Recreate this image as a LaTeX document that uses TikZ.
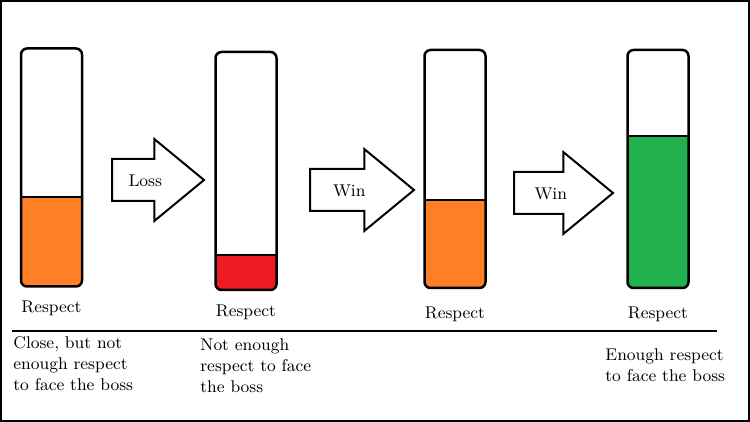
\documentclass[tikz,border=0pt]{standalone}
\usepackage{tikz}
\usetikzlibrary{shapes.arrows, positioning, calc}
\usepackage{xcolor}

\definecolor{paintorange}{RGB}{255,127,39}
\definecolor{paintred}{RGB}{237,28,36}
\definecolor{paintgreen}{RGB}{34,177,76}

\begin{document}
\begin{tikzpicture}[
    x=0.5pt, y=-0.5pt,
    font=\fontsize{8.5}{10.5}\selectfont,
    respectbar/.style 2 args={draw, line width=1.25pt, rounded corners=3pt, minimum width=30.5pt, minimum height=119pt,
        path picture={
            \fill[#2, sharp corners] (path picture bounding box.south west) rectangle ($(path picture bounding box.south east)!#1!(path picture bounding box.north east)$);
            \draw[line width=1pt, sharp corners] ($(path picture bounding box.south west)!#1!(path picture bounding box.north west)$) -- ($(path picture bounding box.south east)!#1!(path picture bounding box.north east)$);
        }},
    blockarrow/.style={shape=single arrow, draw, line width=1pt, single arrow head extend=10pt, single arrow tip angle=79,
        single arrow head indent=0pt, text height=7pt, text depth=0pt, inner ysep=6.5pt, minimum height=#1, anchor=tail},
    note/.style={anchor=north west, inner sep=0pt, align=left}
]
\useasboundingbox (0,0) rectangle (750,422);
\draw[line width=1pt] (1,1) rectangle (748.5,420.5);

% respect meters
\node[respectbar={0.377}{paintorange}] (bar1) at (51.5,167.5) {};
\node[respectbar={0.147}{paintred}] (bar2) at (246,171) {};
\node[respectbar={0.37}{paintorange}] (bar3) at (455,169) {};
\node[respectbar={0.64}{paintgreen}] (bar4) at (658,169) {};

\node[below=3.2pt of bar1] (lab1) {Respect};
\node[below=3.2pt of bar2] (lab2) {Respect};
\node[below=5.2pt of bar3] (lab3) {Respect};
\node[below=5.2pt of bar4] (lab4) {Respect};

% block arrows between the meters
\node[blockarrow=46pt] (loss) at (111,180) {Loss};
\node[blockarrow=52pt] (win1) at (309,190) {Win};
\node[blockarrow=49.5pt] (win2) at (513,193) {Win};

% rule and notes
\coordinate (rule west) at (12,331);
\coordinate (rule east) at (717,331);
\draw[line width=1pt] (rule west) -- (rule east);

\node[note] (note1) at (13,336) {Close, but not\\enough respect\\to face the boss};
\node[note] (note2) at (200,338) {Not enough\\respect to face\\the boss};
\node[note] (note4) at (605,348) {Enough respect\\to face the boss};

\end{tikzpicture}
\end{document}
